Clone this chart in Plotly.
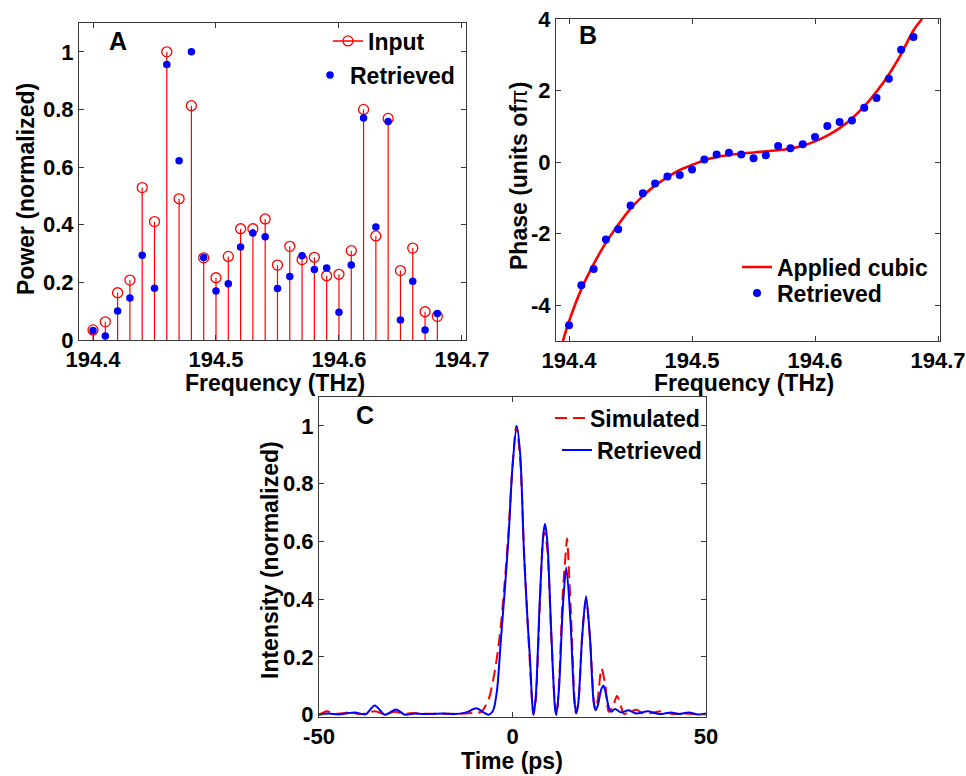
import plotly.graph_objects as go

# ---------------- DATA ----------------
freq_thz = [194.40, 194.41, 194.42, 194.43, 194.44, 194.45, 194.46, 194.47, 194.48, 194.49,
            194.50, 194.51, 194.52, 194.53, 194.54, 194.55, 194.56, 194.57, 194.58, 194.59,
            194.60, 194.61, 194.62, 194.63, 194.64, 194.65, 194.66, 194.67, 194.68]

power_input = [0.035, 0.063, 0.164, 0.208, 0.529, 0.411, 1.000, 0.490, 0.813, 0.285,
               0.216, 0.290, 0.386, 0.386, 0.420, 0.260, 0.325, 0.279, 0.287, 0.223,
               0.228, 0.310, 0.800, 0.361, 0.769, 0.241, 0.319, 0.098, 0.082]

power_retrieved = [0.033, 0.014, 0.101, 0.146, 0.294, 0.180, 0.956, 0.622, 1.000, 0.286,
                   0.170, 0.195, 0.323, 0.371, 0.358, 0.179, 0.220, 0.292, 0.245, 0.250,
                   0.096, 0.260, 0.770, 0.392, 0.758, 0.069, 0.204, 0.035, 0.092]

phase_retrieved = [-4.56, -3.44, -2.99, -2.16, -1.88, -1.21, -0.87, -0.60, -0.40, -0.36,
                   -0.21, 0.07, 0.21, 0.26, 0.21, 0.11, 0.19, 0.45, 0.39, 0.50,
                   0.70, 1.01, 1.12, 1.16, 1.52, 1.79, 2.33, 3.14, 3.50]

cubic_freq = [194.395, 194.40, 194.41, 194.42, 194.43, 194.44, 194.45, 194.46, 194.47, 194.48,
              194.49, 194.50, 194.51, 194.52, 194.53, 194.54, 194.55, 194.56, 194.57, 194.58,
              194.59, 194.60, 194.61, 194.62, 194.63, 194.64, 194.65, 194.66, 194.67, 194.68,
              194.687]
cubic_phase = [-5.00, -4.45, -3.55, -2.85, -2.25, -1.75, -1.30, -0.95, -0.65, -0.42,
               -0.22, -0.08, 0.05, 0.14, 0.20, 0.24, 0.27, 0.30, 0.33, 0.38,
               0.46, 0.58, 0.74, 0.95, 1.22, 1.56, 1.97, 2.45, 3.02, 3.68,
               4.00]

sim_time = [-50, -48, -46, -44, -42, -39, -35.6, -33, -30.4, -28, -26, -24, -20, -15, -12,
            -9.3, -8, -7, -6, -5, -4, -3, -2, -1, 0, 1, 2, 3, 4, 5, 5.4, 6, 7, 8, 8.3, 9, 10,
            11, 11.4, 12, 13, 14, 14.1, 15, 16, 16.4, 17, 18, 19, 20, 21, 21.4, 22, 23, 24,
            24.9, 26, 27, 28, 28.8, 30, 32, 34, 36, 38.5, 41, 44, 47, 50]
sim_intensity = [0.000, 0.012, 0.003, 0.005, 0.008, 0.002, 0.012, 0.002, 0.010, 0.003, 0.006,
                 0.004, 0.003, 0.003, 0.004, 0.007, 0.010, 0.030, 0.060, 0.120, 0.200, 0.310,
                 0.460, 0.640, 0.860, 1.000, 0.880, 0.560, 0.300, 0.060, 0.000, 0.050, 0.360,
                 0.620, 0.630, 0.570, 0.280, 0.030, 0.000, 0.100, 0.420, 0.600, 0.610, 0.380,
                 0.060, 0.005, 0.040, 0.270, 0.400, 0.270, 0.050, 0.020, 0.050, 0.160, 0.100,
                 0.010, 0.030, 0.065, 0.030, 0.003, 0.008, 0.017, 0.003, 0.006, 0.012, 0.003,
                 0.004, 0.002, 0.001]

ret_time = [-50, -47.6, -45, -43, -40.7, -38, -35.6, -33, -30.1, -27.8, -25.2, -23, -20, -18,
            -15, -12, -9.3, -7.5, -6.2, -5, -4, -3, -2, -1, 0, 1.1, 2, 3, 4, 4.5, 5, 5.4, 6, 7,
            8, 8.4, 9, 10, 11, 11.3, 12, 13, 13.9, 15, 16, 16.5, 17, 18, 19, 20, 21, 21.5, 22,
            23, 23.5, 24, 25, 25.5, 26.5, 28, 30, 32, 35, 38, 41, 43, 45.5, 48, 50]
ret_intensity = [0.000, 0.004, 0.001, 0.004, 0.008, 0.001, 0.032, 0.000, 0.018, 0.000, 0.004,
                 0.002, 0.003, 0.004, 0.002, 0.008, 0.022, 0.008, 0.000, 0.015, 0.085, 0.260,
                 0.430, 0.620, 0.860, 1.000, 0.900, 0.550, 0.300, 0.200, 0.060, 0.000, 0.060,
                 0.380, 0.630, 0.660, 0.600, 0.290, 0.020, 0.000, 0.087, 0.370, 0.510, 0.320,
                 0.045, 0.005, 0.040, 0.270, 0.410, 0.270, 0.040, 0.015, 0.030, 0.090, 0.100,
                 0.080, 0.020, 0.010, 0.020, 0.008, 0.015, 0.004, 0.012, 0.002, 0.008, 0.002,
                 0.008, 0.001, 0.004]

freq_ticks = [194.4, 194.5, 194.6, 194.7]
freq_ticktext = ["194.4", "194.5", "194.6", "194.7"]
power_ticks = [0, 0.2, 0.4, 0.6, 0.8, 1]
power_ticktext = ["0", "0.2", "0.4", "0.6", "0.8", "1"]
phase_ticks = [-4, -2, 0, 2, 4]
phase_ticktext = ["-4", "-2", "0", "2", "4"]
time_ticks = [-50, 0, 50]
time_ticktext = ["-50", "0", "50"]

# ---------------- STYLE ----------------
W, H = 966, 776
FONT = "Liberation Sans"
RED = "#ff0000"
BLUE = "#0000ff"
AXC = "#3a3a3a"


def px_x(p):
    return p / W


def px_y(p):
    return 1 - p / H


fig = go.Figure()

# Panel A stems (built from data)
stem_x, stem_y = [], []
for f, v in zip(freq_thz, power_input):
    stem_x += [f, f, None]
    stem_y += [0, v, None]

fig.add_trace(go.Scatter(x=stem_x, y=stem_y, mode="lines", line=dict(color=RED, width=1.2),
                         showlegend=False, xaxis="x", yaxis="y", hoverinfo="skip"))
fig.add_trace(go.Scatter(x=freq_thz, y=power_input, mode="markers",
                         marker=dict(symbol="circle-open", size=10, color=RED, line=dict(width=1.3, color=RED)),
                         showlegend=False, xaxis="x", yaxis="y"))
fig.add_trace(go.Scatter(x=freq_thz, y=power_retrieved, mode="markers",
                         marker=dict(symbol="circle", size=7.5, color=BLUE),
                         name="Retrieved", legend="legend2", xaxis="x", yaxis="y"))
# legend entry for Input (line + open circle)
fig.add_trace(go.Scatter(x=[None], y=[None], mode="lines+markers", name="Input",
                         line=dict(color=RED, width=1.5),
                         marker=dict(symbol="circle-open", size=10, color=RED, line=dict(width=1.3, color=RED)),
                         legend="legend", xaxis="x", yaxis="y"))

# Panel B
fig.add_trace(go.Scatter(x=cubic_freq, y=cubic_phase, mode="lines", line=dict(color=RED, width=2.6, shape="spline"),
                         name="Applied cubic", legend="legend3", xaxis="x2", yaxis="y2"))
fig.add_trace(go.Scatter(x=freq_thz, y=phase_retrieved, mode="markers",
                         marker=dict(symbol="circle", size=8, color=BLUE),
                         name="Retrieved", legend="legend4", xaxis="x2", yaxis="y2"))

# Panel C
fig.add_trace(go.Scatter(x=sim_time, y=sim_intensity, mode="lines",
                         line=dict(color=RED, width=2, dash="12px,6px", shape="spline", smoothing=0.8),
                         name="Simulated", legend="legend5", xaxis="x3", yaxis="y3"))
fig.add_trace(go.Scatter(x=ret_time, y=ret_intensity, mode="lines",
                         line=dict(color=BLUE, width=2, shape="spline", smoothing=0.8),
                         name="Retrieved", legend="legend6", xaxis="x3", yaxis="y3"))

tickfont = dict(family=FONT, size=22, color="black", weight="bold")
common = dict(showgrid=False, zeroline=False, showline=True, linecolor=AXC, linewidth=1,
              mirror="ticks", ticks="inside", ticklen=5, tickcolor=AXC, tickfont=tickfont,
              automargin=False)

legfont = dict(family=FONT, size=23, color="black", weight="bold")


def leg(xpx, ypx):
    return dict(x=px_x(xpx), y=px_y(ypx), xanchor="left", yanchor="middle", bgcolor="rgba(0,0,0,0)",
                borderwidth=0, font=legfont, itemwidth=30)


fig.update_layout(
    width=W, height=H, margin=dict(l=0, r=0, t=0, b=0, pad=0, autoexpand=False),
    paper_bgcolor="white", plot_bgcolor="white",
    xaxis=dict(domain=[px_x(79), px_x(466)], range=[194.3886, 194.7033], anchor="y",
               tickvals=freq_ticks, ticktext=freq_ticktext, **common),
    yaxis=dict(domain=[px_y(340), px_y(23)], range=[0, 1.1], anchor="x",
               tickvals=power_ticks, ticktext=power_ticktext, **common),
    xaxis2=dict(domain=[px_x(556), px_x(940)], range=[194.3894, 194.7016], anchor="y2",
                tickvals=freq_ticks, ticktext=freq_ticktext, **common),
    yaxis2=dict(domain=[px_y(341), px_y(19)], range=[-5, 4], anchor="x2",
                tickvals=phase_ticks, ticktext=phase_ticktext, **common),
    xaxis3=dict(domain=[px_x(319), px_x(706)], range=[-50, 50], anchor="y3",
                tickvals=time_ticks, ticktext=time_ticktext, **common),
    yaxis3=dict(domain=[px_y(717), px_y(397)], range=[-0.008, 1.1], anchor="x3",
                tickvals=power_ticks, ticktext=power_ticktext, **common),
    legend=leg(328, 41),
    legend2=leg(310, 75),
    legend3=leg(737, 267),
    legend4=leg(737, 293),
    legend5=leg(550, 418),
    legend6=leg(557, 450),
)

labfont = dict(family=FONT, size=23, color="black", weight="bold")
letfont = dict(family=FONT, size=25, color="black", weight="bold")
annots = [
    ("A", 118, 41, 0, letfont),
    ("B", 588, 35, 0, letfont),
    ("C", 365, 415, 0, letfont),
    ("Frequency (THz)", 275, 383, 0, labfont),
    ("Frequency (THz)", 744, 383, 0, labfont),
    ("Time (ps)", 512, 761, 0, labfont),
    ("Power (normalized)", 26, 189, -90, labfont),
    ("Phase (units of<span style='font-weight:normal'>π</span>)", 519, 176, -90, labfont),
    ("Intensity (normalized)", 270, 560, -90, labfont),
]
for text, xp, yp, rot, fnt in annots:
    fig.add_annotation(text=text, x=px_x(xp), y=px_y(yp), xref="paper", yref="paper",
                       xanchor="center", yanchor="middle", showarrow=False, textangle=rot, font=fnt)

fig.write_html("out.html", config={"displayModeBar": False},
               post_script="document.body.style.margin='0';document.body.style.overflow='hidden';")
